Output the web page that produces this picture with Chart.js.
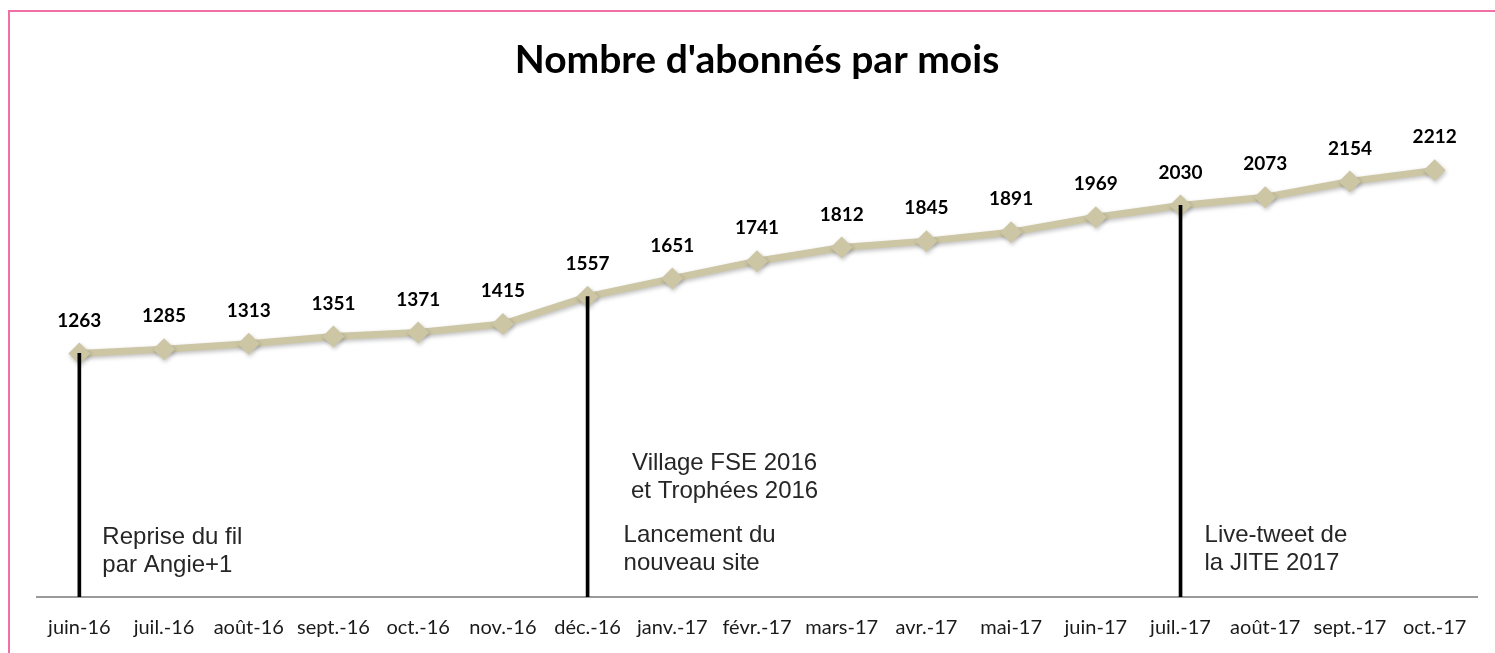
<!DOCTYPE html>
<html lang="fr">
  <head>
    <meta charset="UTF-8" />
    <title>Nombre d'abonnés par mois</title>
    <script src="https://cdn.jsdelivr.net/npm/chart.js@4.4.1/dist/chart.umd.min.js"></script>
    <style>
      html, body { margin: 0; padding: 0; background: #fff; overflow: hidden; }
      #frame {
        position: absolute; left: 8px; top: 10px; width: 1600px; height: 700px;
        border-top: 2px solid #ef70a5; border-left: 2px solid #ef70a5;
      }
      #myChart { position: absolute; left: 0; top: 0; }
    </style>
  </head>
  <body>
    <div id="frame"></div>
    <canvas id="myChart" width="1495" height="653"></canvas>
    <script>
      // mois
      const months = ['juin-16', 'juil.-16', 'août-16', 'sept.-16', 'oct.-16', 'nov.-16', 'déc.-16',
        'janv.-17', 'févr.-17', 'mars-17', 'avr.-17', 'mai-17', 'juin-17', 'juil.-17', 'août-17', 'sept.-17', 'oct.-17'];
      // abonnés
      const subscribers = [1263, 1285, 1313, 1351, 1371, 1415, 1557, 1651, 1741, 1812, 1845, 1891, 1969, 2030, 2073, 2154, 2212];
      // événements marqués par un trait vertical
      const eventMonths = ['juin-16', 'déc.-16', 'juil.-17'];
      const notes = [
        { at: 'juin-16', lines: ['Reprise du fil', 'par Angie+1'] },
        { at: 'déc.-16', lines: ['Lancement du', 'nouveau site'] },
        { at: 'déc.-16', lines: ['Village FSE 2016', 'et Trophées 2016'] },
        { at: 'juil.-17', lines: ['Live-tweet de', 'la JITE 2017'] },
      ];

      const eventBars = months.map((m, i) => eventMonths.includes(m) ? subscribers[i] : null);

      const lineColor = '#ccc6a4';

      const shadowPlugin = {
        id: 'shadow',
        beforeDatasetDraw(chart, args) {
          if (args.index !== 0) return;
          const c = chart.ctx;
          c.save();
          c.shadowColor = 'rgba(0,0,0,0.25)';
          c.shadowBlur = 4;
          c.shadowOffsetY = 2;
          c.shadowOffsetX = 1;
        },
        afterDatasetDraw(chart, args) {
          if (args.index !== 0) return;
          chart.ctx.restore();
        },
      };

      const labelsPlugin = {
        id: 'valueLabels',
        afterDatasetsDraw(chart) {
          const c = chart.ctx;
          const meta = chart.getDatasetMeta(0);
          c.save();
          c.font = 'bold 19px Lato';
          c.fillStyle = '#000';
          c.textAlign = 'center';
          c.textBaseline = 'middle';
          meta.data.forEach((pt, i) => {
            c.fillText(String(subscribers[i]), pt.x, pt.y - 33);
          });
          c.restore();
        },
      };

      // placement des textes (décalage depuis le mois, position verticale)
      const noteLayout = [
        { dx: 23, y: 537, align: 'left' },
        { dx: 36, y: 535, align: 'left' },
        { dx: 137, y: 463, align: 'center' },
        { dx: 24, y: 535, align: 'left' },
      ];

      const notesPlugin = {
        id: 'notes',
        afterDraw(chart) {
          const c = chart.ctx;
          const x = chart.scales.x;
          c.save();
          c.font = '24px "Liberation Sans", Arial';
          c.fillStyle = '#262626';
          c.textBaseline = 'middle';
          notes.forEach((n, k) => {
            const lay = noteLayout[k];
            const px = x.getPixelForValue(months.indexOf(n.at)) + lay.dx;
            c.textAlign = lay.align;
            n.lines.forEach((line, j) => c.fillText(line, px, lay.y + j * 28));
          });
          c.restore();
        },
      };

      const ctx = document.getElementById('myChart').getContext('2d');

      new Chart(ctx, {
        data: {
          labels: months,
          datasets: [
            {
              type: 'line',
              order: 1,
              data: subscribers,
              borderColor: lineColor,
              borderWidth: 7,
              pointStyle: 'rectRot',
              pointRadius: 11,
              pointBackgroundColor: lineColor,
              pointBorderWidth: 0,
              tension: 0,
            },
            {
              type: 'bar',
              order: 0,
              data: eventBars,
              backgroundColor: '#000',
              barThickness: 3,
            },
          ],
        },
        options: {
          responsive: false,
          animation: false,
          layout: { padding: { left: 37, right: 18, top: 0, bottom: -6 } },
          plugins: {
            legend: { display: false },
            tooltip: { enabled: false },
            title: {
              display: true,
              text: "Nombre d'abonnés par mois",
              color: '#000',
              font: { family: 'Lato', size: 39, weight: 'bold', lineHeight: 1.2 },
              padding: { top: 37, bottom: 31 },
            },
          },
          scales: {
            x: {
              offset: true,
              grid: { display: false, drawTicks: false },
              border: { display: true, color: '#9a9a9a', width: 2 },
              ticks: {
                color: '#1a1a1a',
                padding: 19,
                maxRotation: 0,
                autoSkip: false,
                font: { family: 'Lato', size: 20 },
              },
            },
            y: {
              display: false,
              min: 0,
              max: 2500,
            },
          },
        },
        plugins: [shadowPlugin, labelsPlugin, notesPlugin],
      });
    </script>
  </body>
</html>
